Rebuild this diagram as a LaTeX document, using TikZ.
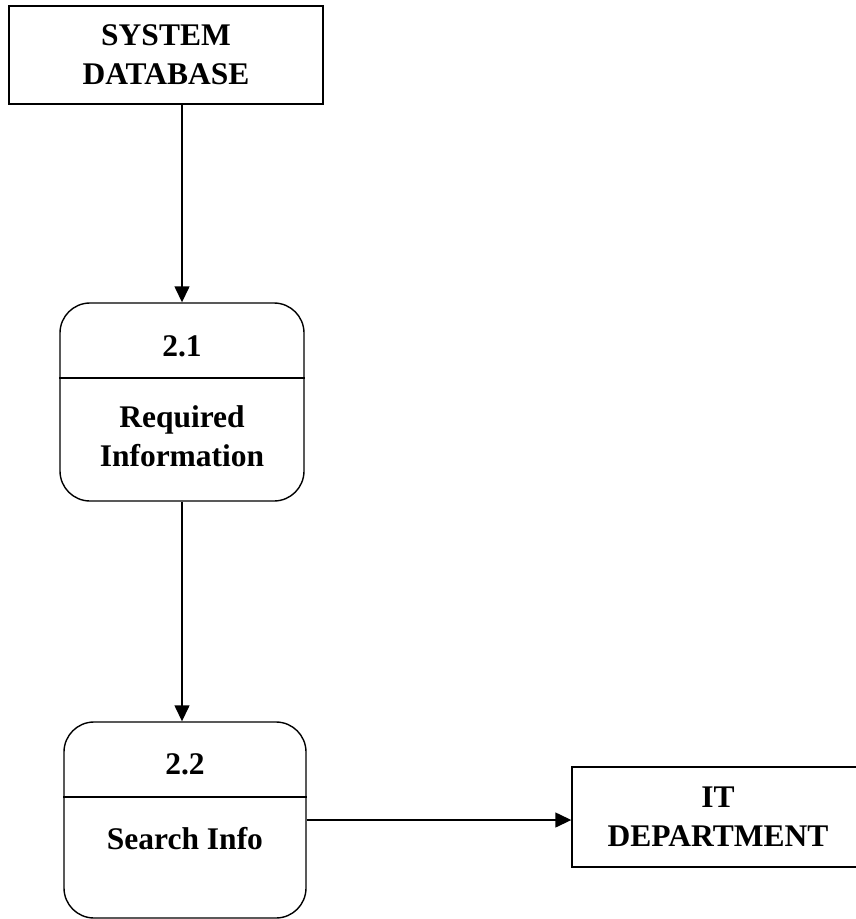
\documentclass[tikz,border=0pt]{standalone}
\usepackage{fontspec}
\setmainfont{Liberation Serif}
\usetikzlibrary{arrows.meta}

\begin{document}
\begin{tikzpicture}[x=1pt, y=-1pt, line width=1.4pt,
    entity/.style={draw, rectangle, inner sep=0pt, align=center,
        font=\bfseries\fontsize{31.5}{39}\selectfont},
    proc/.style={draw, rectangle, rounded corners=30pt, inner sep=0pt},
    txt/.style={align=center, inner sep=0pt,
        font=\bfseries\fontsize{31.5}{39}\selectfont},
    flow/.style={-{Triangle[length=16pt,width=15pt]}}]
    \useasboundingbox (0,0) rectangle (856,919);
    % external entities
    \node[entity, minimum width=314pt, minimum height=98pt] (sysdb) at (166,55) {SYSTEM\\DATABASE};
    \node[entity, minimum width=292pt, minimum height=100pt] (itdept) at (718,817) {IT\\DEPARTMENT};
    % process 2.1
    \node[proc, minimum width=244pt, minimum height=198pt] (p21) at (182,402) {};
    \draw (p21.west |- 0,378) -- (p21.east |- 0,378);
    \node[txt] (p21num) at (182,346) {2.1};
    \node[txt] (p21name) at (182,436) {Required\\Information};
    % process 2.2
    \node[proc, minimum width=242pt, minimum height=196pt] (p22) at (185,820) {};
    \draw (p22.west |- 0,797) -- (p22.east |- 0,797);
    \node[txt] (p22num) at (185,764) {2.2};
    \node[txt] (p22name) at (185,839) {Search Info};
    % data flows
    \draw[flow] (p21.north |- sysdb.south) -- (p21.north);
    \draw[flow] (p21.south) -- (p21.south |- p22.north);
    \draw[flow] (p22.east) -- (itdept.west |- p22.east);
\end{tikzpicture}
\end{document}
